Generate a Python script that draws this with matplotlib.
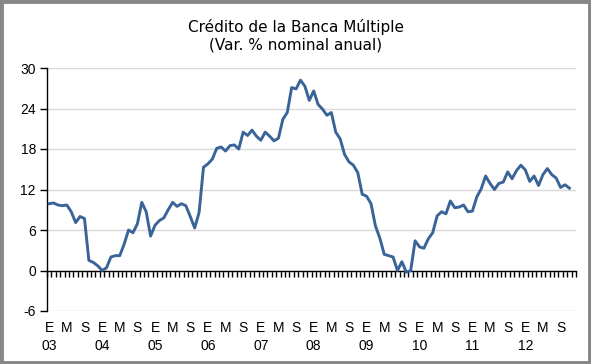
import matplotlib
matplotlib.use("Agg")
import matplotlib.pyplot as plt
import matplotlib.transforms as mtransforms
from matplotlib.patches import Rectangle
import numpy as np

# Monthly series, Jan 2003 - Nov 2012 (Var. % nominal anual)
credit_growth = [
    9.9, 10.0, 9.7, 9.6, 9.7, 8.7, 7.1, 8.0, 7.7, 1.5, 1.2, 0.7,      # 2003
    0.0, 0.4, 2.0, 2.2, 2.2, 3.9, 6.0, 5.6, 6.9, 10.1, 8.7, 5.1,      # 2004
    6.7, 7.4, 7.8, 9.0, 10.1, 9.5, 9.9, 9.6, 8.0, 6.3, 8.6, 15.3,     # 2005
    15.8, 16.5, 18.1, 18.3, 17.7, 18.5, 18.6, 18.0, 20.5, 20.0, 20.8, 19.9,  # 2006
    19.3, 20.5, 19.9, 19.2, 19.6, 22.4, 23.4, 27.1, 26.9, 28.2, 27.3, 25.2,  # 2007
    26.6, 24.6, 23.9, 23.0, 23.4, 20.5, 19.5, 17.2, 16.1, 15.6, 14.5, 11.3,  # 2008
    11.0, 9.9, 6.6, 4.8, 2.4, 2.2, 2.0, 0.0, 1.3, -0.25, 0.0, 4.4,     # 2009
    3.5, 3.3, 4.7, 5.6, 8.1, 8.7, 8.4, 10.3, 9.3, 9.4, 9.7, 8.7,       # 2010
    8.8, 10.9, 12.1, 14.0, 12.9, 12.0, 12.9, 13.1, 14.6, 13.6, 14.8, 15.6,  # 2011
    14.9, 13.2, 14.0, 12.6, 14.2, 15.1, 14.2, 13.7, 12.3, 12.7, 12.2,       # 2012
]
n_categories = 120
month_letters = ["E", "M", "S"]
month_offsets = [0, 4, 8]
year_labels = ["03", "04", "05", "06", "07", "08", "09", "10", "11", "12"]
y_ticks = [-6, 0, 6, 12, 18, 24, 30]

title = "Crédito de la Banca Múltiple\n(Var. % nominal anual)"

W, H = 591, 364
fig = plt.figure(figsize=(W / 100, H / 100), dpi=100)
fig.patch.set_facecolor("white")

# outer gray frame
fig.patches.append(Rectangle((0.0025, 0.004), 0.995, 0.992, transform=fig.transFigure,
                             fill=False, edgecolor="#878787", linewidth=3.5))

ax = fig.add_axes([47 / W, 1 - 311 / H, (576 - 47) / W, (311 - 68) / H])

x = np.arange(len(credit_growth))
ax.plot(x, credit_growth, color="#3A6497", linewidth=2.1, solid_joinstyle="round", zorder=3)

ax.set_xlim(-0.5, n_categories - 0.5)
ax.set_ylim(-6, 30)
ax.set_yticks(y_ticks)
ax.set_yticklabels([str(v) for v in y_ticks], fontfamily="Liberation Sans", fontsize=10)
ax.yaxis.grid(True, color="#D9D9D9", linewidth=1.0)
ax.set_axisbelow(True)

for s in ["top", "right"]:
    ax.spines[s].set_visible(False)
ax.spines["left"].set_color("black")
ax.spines["left"].set_linewidth(1.0)
ax.spines["bottom"].set_position(("data", 0))
ax.spines["bottom"].set_color("black")
ax.spines["bottom"].set_linewidth(1.0)

ax.tick_params(axis="y", direction="out", length=5, width=1, color="black", pad=3)
ax.set_xticks(np.arange(n_categories + 1) - 0.5)
ax.tick_params(axis="x", direction="out", length=4, width=1, color="black", labelbottom=False)

trans = mtransforms.blended_transform_factory(ax.transData, fig.transFigure)
for yi, yl in enumerate(year_labels):
    for mo, ml in zip(month_offsets, month_letters):
        ax.text(yi * 12 + mo, 1 - 328 / H, ml, transform=trans, ha="center", va="center",
                fontfamily="Liberation Sans", fontsize=10)
    ax.text(yi * 12, 1 - 346 / H, yl, transform=trans, ha="center", va="center",
            fontfamily="Liberation Sans", fontsize=10)

fig.text(0.5, 1 - 36 / H, title, ha="center", va="center", fontsize=11,
         fontfamily="DejaVu Sans", linespacing=1.25)

fig.savefig("out.png", dpi=100, facecolor="white")
